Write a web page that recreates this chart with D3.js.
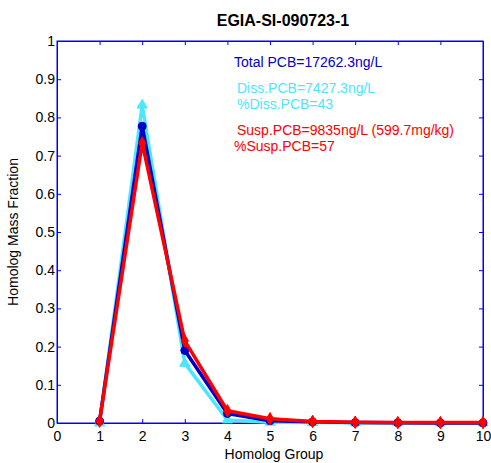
<!DOCTYPE html>
<html><head><meta charset="utf-8">
<script src="https://cdn.jsdelivr.net/npm/d3@7"></script>
<style>body{margin:0;background:#fff}svg{display:block}text{font-family:"Liberation Sans",Arial,sans-serif}</style>
</head><body>
<script>
const groups = [1,2,3,4,5,6,7,8,9,10];
const totalVals = [0.005,0.777,0.19,0.025,0.006,0.003,0.001,0.0005,0.0003,0.0002];
const dissVals  = [0.0,0.832,0.156,0.008,0.002,0.001,0.0005,0.0002,0.0001,0.0001];
const suspVals  = [0.005,0.733,0.215,0.032,0.011,0.004,0.002,0.001,0.001,0.001];
const xTicks = [0,1,2,3,4,5,6,7,8,9,10];
const yTicks = [0,0.1,0.2,0.3,0.4,0.5,0.6,0.7,0.8,0.9,1];

const W=491,H=463;
const svg=d3.select("body").append("svg").attr("width",W).attr("height",H);
const x=d3.scaleLinear().domain([0,10]).range([57,483]);
const y=d3.scaleLinear().domain([0,1]).range([423,41]);
const axisCol="#0000ff";

svg.append("rect").attr("x",57).attr("y",41).attr("width",426).attr("height",382)
  .attr("fill","none").attr("stroke",axisCol).attr("stroke-width",1);

const fmt=d=>d3.format("~g")(d);
const bx=svg.append("g").attr("transform","translate(0,423)").call(d3.axisBottom(x).tickValues(xTicks).tickSizeInner(-4).tickSizeOuter(0).tickPadding(8).tickFormat(fmt));
const tx=svg.append("g").attr("transform","translate(0,41)").call(d3.axisTop(x).tickValues(xTicks).tickSizeInner(-4).tickSizeOuter(0).tickFormat(""));
const ly=svg.append("g").attr("transform","translate(57,0)").call(d3.axisLeft(y).tickValues(yTicks).tickSizeInner(-4).tickSizeOuter(0).tickPadding(6).tickFormat(fmt));
const ry=svg.append("g").attr("transform","translate(483,0)").call(d3.axisRight(y).tickValues(yTicks).tickSizeInner(-4).tickSizeOuter(0).tickFormat(""));
[bx,tx,ly,ry].forEach(g=>{
  g.select(".domain").attr("stroke",axisCol);
  g.selectAll(".tick line").attr("stroke",axisCol);
  g.selectAll("text").attr("fill","#000").style("font-size","14px").style("font-family","Liberation Sans, Arial, sans-serif");
});
ly.selectAll("text").attr("dx","4");

const line=d3.line().x((d,i)=>x(groups[i])).y(d=>y(d));
const series=[
  {vals:dissVals,color:"#4de6ff",marker:"tri"},
  {vals:totalVals,color:"#0000c8",marker:"circle"},
  {vals:suspVals,color:"#ff0000",marker:"diamond"}
];
series.forEach(s=>{
  svg.append("path").datum(s.vals).attr("d",line).attr("fill","none")
    .attr("stroke",s.color).attr("stroke-width",3.5).attr("stroke-linejoin","round");
  const sym = s.marker==="circle"?d3.symbolCircle:(s.marker==="tri"?d3.symbolTriangle:d3.symbolDiamond);
  svg.selectAll(null).data(s.vals).enter().append("path")
    .attr("d",d3.symbol().type(sym).size(s.marker==="circle"?50:45))
    .attr("transform",(d,i)=>`translate(${x(groups[i])},${y(d)})`)
    .attr("fill",s.color).attr("stroke",s.color).attr("stroke-width",1);
});

svg.append("text").attr("x",283).attr("y",26).attr("text-anchor","middle")
  .style("font-size","16px").style("font-weight","bold").text("EGIA-SI-090723-1");
svg.append("text").attr("x",274).attr("y",459).attr("text-anchor","middle")
  .style("font-size","14px").text("Homolog Group");
svg.append("text").attr("transform","translate(18,232) rotate(-90)").attr("text-anchor","middle")
  .style("font-size","14px").text("Homolog Mass Fraction");

const notes=[
  {t:"Total PCB=17262.3ng/L",x:234,y:67,c:"#0000c8"},
  {t:"Diss.PCB=7427.3ng/L",x:237,y:93,c:"#4de6ff"},
  {t:"%Diss.PCB=43",x:237,y:109,c:"#4de6ff"},
  {t:"Susp.PCB=9835ng/L (599.7mg/kg)",x:237,y:135,c:"#ff0000"},
  {t:"%Susp.PCB=57",x:234,y:151,c:"#ff0000"}
];
notes.forEach(n=>svg.append("text").attr("x",n.x).attr("y",n.y).attr("fill",n.c)
  .style("font-size","14px").text(n.t));
</script>
</body></html>
